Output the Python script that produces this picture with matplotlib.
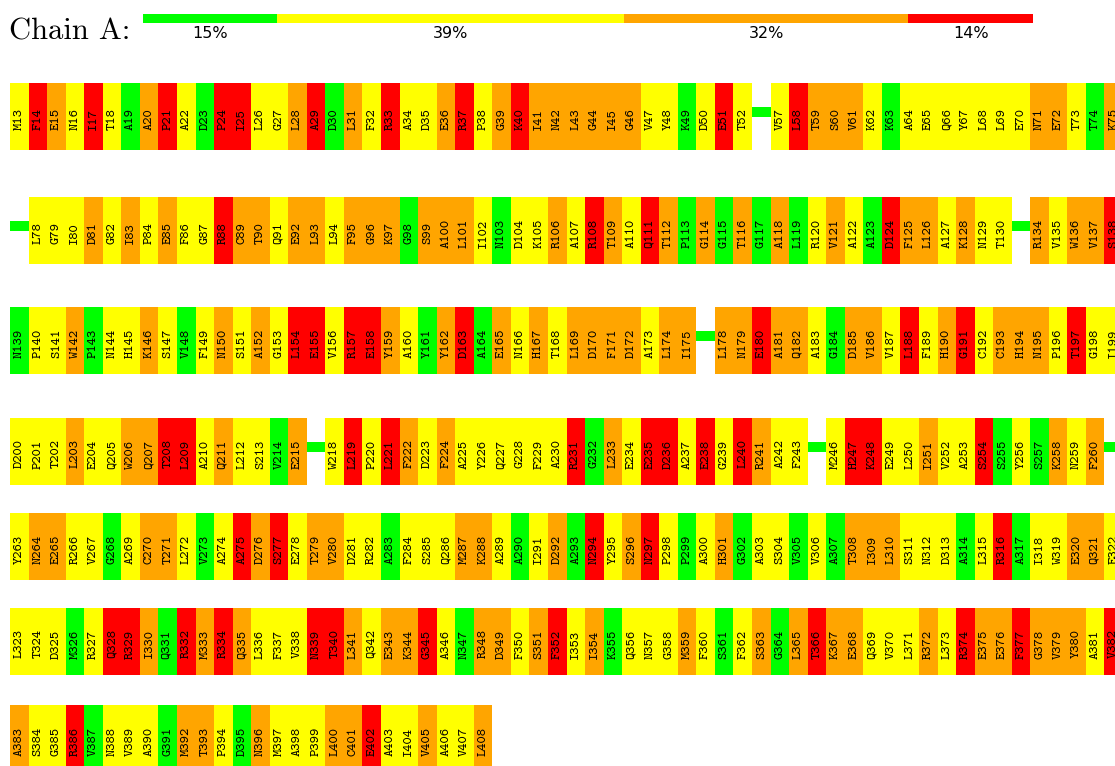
import matplotlib
matplotlib.use("Agg")
import matplotlib.pyplot as plt

# residue labels per row, "-" marks a gap in the chain
row_labels = [
    "M13 F14 E15 N16 I17 T18 A19 A20 P21 A22 D23 P24 I25 L26 G27 L28 A29 D30 L31 F32 "
    "R33 A34 D35 E36 R37 P38 G39 K40 I41 N42 L43 G44 I45 G46 V47 Y48 K49 D50 E51 T52 - "
    "V57 L58 T59 S60 V61 K62 K63 A64 E65 Q66 Y67 L68 L69 E70 N71 E72 T73 T74 K75",
    "- L78 G79 I80 D81 G82 I83 P84 E85 F86 G87 R88 C89 T90 Q91 E92 L93 L94 F95 G96 K97 "
    "G98 S99 A100 L101 I102 N103 D104 K105 R106 A107 R108 T109 A110 Q111 T112 P113 G114 "
    "G115 T116 G117 A118 L119 R120 V121 A122 A123 D124 F125 L126 A127 K128 N129 T130 - "
    "R134 V135 W136 V137 S138",
    "N139 P140 S141 W142 P143 N144 H145 K146 S147 V148 F149 N150 S151 A152 G153 L154 E155 "
    "V156 R157 E158 Y159 A160 Y161 Y162 D163 A164 E165 N166 H167 T168 L169 D170 F171 D172 "
    "A173 L174 I175 - L178 N179 E180 A181 Q182 A183 G184 D185 V186 V187 L188 F189 H190 "
    "G191 C192 C193 H194 N195 P196 T197 G198 I199",
    "D200 P201 T202 L203 E204 Q205 W206 Q207 T208 L209 A210 Q211 L212 S213 V214 E215 - "
    "W218 L219 P220 L221 F222 D223 F224 A225 Y226 Q227 G228 F229 A230 R231 G232 L233 E234 "
    "E235 D236 A237 E238 G239 L240 R241 A242 F243 - M246 H247 K248 E249 L250 I251 V252 "
    "A253 S254 S255 Y256 S257 K258 N259 F260 -",
    "Y263 N264 E265 R266 V267 G268 A269 C270 T271 L272 V273 A274 A275 D276 S277 E278 T279 "
    "V280 D281 R282 A283 F284 S285 Q286 M287 K288 A289 A290 I291 D292 A293 N294 Y295 S296 "
    "N297 P298 P299 A300 H301 G302 A303 S304 V305 V306 A307 T308 I309 L310 S311 N312 D313 "
    "A314 L315 R316 A317 I318 W319 E320 Q321 E322",
    "L323 T324 D325 M326 R327 Q328 R329 I330 Q331 R332 M333 R334 Q335 L336 F337 V338 N339 "
    "T340 L341 Q342 E343 K344 G345 A346 N347 R348 D349 F350 S351 F352 I353 I354 K355 Q356 "
    "N357 G358 M359 F360 S361 F362 S363 G364 L365 T366 K367 E368 Q369 V370 L371 R372 L373 "
    "R374 E375 E376 F377 G378 V379 Y380 A381 V382",
    "A383 S384 G385 R386 V387 N388 V389 A390 G391 M392 T393 P394 D395 N396 M397 A398 P399 "
    "L400 C401 E402 A403 I404 V405 A406 V407 L408",
]

# class of each cell: G green, Y yellow, O orange, R red, "-" gap
row_classes = [
    "YROYRYGORY" "GRRYYORGOY" "RYYORYOROO" "OOOOYYGYRY" "-" "YROOOYGYYY" "YYYYOOYGO",
    "-" "YYYOYOYOYY" "ROOYOOYOOO" "GOOOYGYYOY" "ROYROGOGOG" "OGYOYGROOY" "OYY" "-" "OYOOR",
    "GYYOGYYOYG" "YOYOYRRYRR" "OYGORGOYOY" "OOOOYOO" "-" "OOROOYGOOY" "RYORYOOOYR" "YY",
    "YYYOYYOORR" "YOYYGO" "-" "YRYROYOYYY" "YYYRGOYRRY" "RYROYY" "-" "YRRYYOYYRG" "YGOYO" "-",
    "YOOYYGYOOY" "GYRORYOOYY" "GYYYOOYGYO" "GRYORYGYOG" "YYGYGOOOYY" "YGYRGYYOOY",
    "YYYGYRROGR" "OROYYYRROY" "OORYGOOYOR" "YOGYYYOYGY" "OGOROOYYYO" "YROOROOOYR",
    "OYYRGYYYGO" "OYGOYYYOOR" "YYOYYO",
]

# header summary bar
pct_values = [15, 39, 32, 14]
pct_classes = ["G", "Y", "O", "R"]

colors = {"G": "#00ff00", "Y": "#ffff00", "O": "#ffa500", "R": "#ff0000"}

row_tops = [83, 197, 307, 418, 513, 608, 705]
cell_w = 18.55
cell_h = 67
x0 = 10

fig = plt.figure(figsize=(11.15, 7.66), dpi=100)
ax = fig.add_axes([0, 0, 1, 1])
ax.set_xlim(0, 1115)
ax.set_ylim(766, 0)
ax.axis("off")

# title
ax.text(9, 40, "Chain A:", fontfamily="cmr10", fontsize=22, va="baseline", ha="left")

# percentage bar
bar_left = 143
bar_total = 890
left = bar_left
for pct, cls in zip(pct_values, pct_classes):
    w = pct / 100 * bar_total
    ax.barh(18.5, w, left=left, height=9, color=colors[cls], linewidth=0)
    ax.text(left + w / 2, 34, f"{pct}%", ha="center", va="center",
            fontfamily="DejaVu Sans", fontsize=11.5)
    left += w

# residue cells
for top, labels, classes in zip(row_tops, row_labels, row_classes):
    labels = labels.split()
    for i, (lab, cls) in enumerate(zip(labels, classes)):
        xc = x0 + (i + 0.5) * cell_w
        if lab == "-":
            ax.bar(xc, 10, bottom=top + 24, width=cell_w, color=colors["G"], linewidth=0)
            continue
        ax.bar(xc, cell_h, bottom=top, width=cell_w, color=colors[cls], linewidth=0)
        ax.text(xc, top + 36, lab, rotation=90, ha="center", va="center",
                fontfamily="cmtt10", fontsize=10)

fig.savefig("out.png", dpi=100)
